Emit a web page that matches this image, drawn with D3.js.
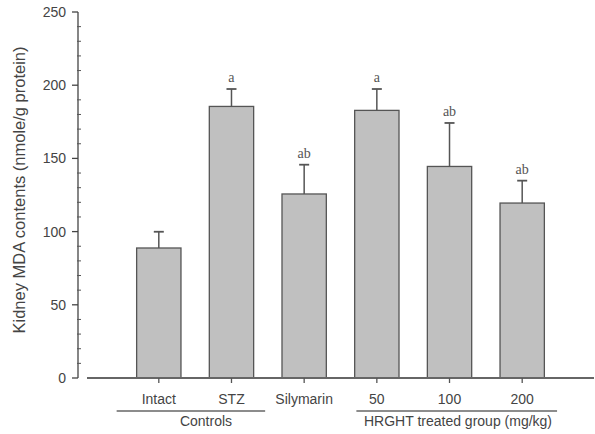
<!DOCTYPE html>
<html>
<head>
    <title>Kidney MDA contents</title>
    <script src="https://d3js.org/d3.v7.min.js"></script>
    <style>
        body {
            margin: 0;
            padding: 0;
            background: #fff;
        }
        svg {
            display: block;
            font-family: "Liberation Sans", Arial, sans-serif;
        }
    </style>
</head>
<body>
    <div id="chart"></div>

    <script>
        const width = 595;
        const height = 434;

        // values
        const groups = ['Intact', 'STZ', 'Silymarin', '50', '100', '200'];
        const means = [88.8, 185.5, 125.7, 182.8, 144.5, 119.5];
        const errors = [11.1, 11.9, 20.0, 14.6, 29.7, 15.3];
        const letters = ['', 'a', 'ab', 'a', 'ab', 'ab'];
        const yTicks = [0, 50, 100, 150, 200, 250];
        const brackets = [
            { label: 'Controls', from: 'Intact', to: 'STZ' },
            { label: 'HRGHT treated group (mg/kg)', from: '50', to: '200' }
        ];

        const data = groups.map((g, i) => ({
            group: g, mean: means[i], err: errors[i], letter: letters[i]
        }));

        const svg = d3.select('#chart')
            .append('svg')
            .attr('width', width)
            .attr('height', height);

        const x = d3.scaleBand()
            .domain(groups)
            .range([87, 594])
            .paddingInner(0.39)
            .paddingOuter(0.683);

        const y = d3.scaleLinear()
            .domain([0, 250])
            .range([378, 12]);

        const axisX = 78;

        // y axis
        svg.append('line')
            .attr('x1', axisX).attr('x2', axisX)
            .attr('y1', y(250)).attr('y2', y(0))
            .attr('stroke', '#444').attr('stroke-width', 1.3);

        svg.selectAll('.minor')
            .data(d3.range(0, 251, 10).filter(v => v % 50 !== 0))
            .join('line')
            .attr('x1', axisX - 1).attr('x2', axisX + 3)
            .attr('y1', d => y(d)).attr('y2', d => y(d))
            .attr('stroke', '#555').attr('stroke-width', 1);

        svg.selectAll('.major')
            .data(yTicks)
            .join('line')
            .attr('x1', axisX - 6).attr('x2', axisX)
            .attr('y1', d => y(d)).attr('y2', d => y(d))
            .attr('stroke', '#444').attr('stroke-width', 1.3);

        svg.selectAll('.ylab')
            .data(yTicks)
            .join('text')
            .attr('x', axisX - 12)
            .attr('y', d => y(d) + 5)
            .attr('text-anchor', 'end')
            .attr('font-size', 14)
            .attr('fill', '#444')
            .text(d => d);

        svg.append('text')
            .attr('transform', `translate(25,${(45 + 335) / 2}) rotate(-90)`)
            .attr('text-anchor', 'middle')
            .attr('font-size', 16.5)
            .attr('fill', '#444')
            .text('Kidney MDA contents (nmole/g protein)');

        // bars
        svg.selectAll('.bar')
            .data(data)
            .join('rect')
            .attr('x', d => x(d.group))
            .attr('y', d => y(d.mean))
            .attr('width', x.bandwidth())
            .attr('height', d => y(0) - y(d.mean))
            .attr('fill', '#c0c0c0')
            .attr('stroke', '#555')
            .attr('stroke-width', 1.3);

        // error bars
        const cx = d => x(d.group) + x.bandwidth() / 2;
        svg.selectAll('.err')
            .data(data)
            .join('line')
            .attr('x1', cx).attr('x2', cx)
            .attr('y1', d => y(d.mean)).attr('y2', d => y(d.mean + d.err))
            .attr('stroke', '#555').attr('stroke-width', 1.5);

        svg.selectAll('.cap')
            .data(data)
            .join('line')
            .attr('x1', d => cx(d) - 5).attr('x2', d => cx(d) + 5)
            .attr('y1', d => y(d.mean + d.err)).attr('y2', d => y(d.mean + d.err))
            .attr('stroke', '#555').attr('stroke-width', 1.8);

        svg.selectAll('.letter')
            .data(data.filter(d => d.letter))
            .join('text')
            .attr('x', cx)
            .attr('y', d => y(d.mean + d.err) - 7)
            .attr('text-anchor', 'middle')
            .attr('font-family', '"Liberation Serif", "Times New Roman", serif')
            .attr('font-size', 14)
            .attr('fill', '#555')
            .text(d => d.letter);

        // x axis
        svg.append('line')
            .attr('x1', 87).attr('x2', 594)
            .attr('y1', y(0)).attr('y2', y(0))
            .attr('stroke', '#666').attr('stroke-width', 1.8);

        svg.selectAll('.xtick')
            .data(groups)
            .join('line')
            .attr('x1', g => x(g) + x.bandwidth() / 2)
            .attr('x2', g => x(g) + x.bandwidth() / 2)
            .attr('y1', y(0)).attr('y2', y(0) + 5)
            .attr('stroke', '#555').attr('stroke-width', 1.3);

        svg.selectAll('.xlab')
            .data(groups)
            .join('text')
            .attr('x', g => x(g) + x.bandwidth() / 2)
            .attr('y', 404)
            .attr('text-anchor', 'middle')
            .attr('font-size', 14)
            .attr('fill', '#444')
            .text(g => g);

        // group brackets under the axis
        const bracketLines = [[-20, 11.5], [1.7, 12.7]];
        const bracketText = [206, 458];
        brackets.forEach((b, i) => {
            const x1 = x(b.from) + bracketLines[i][0];
            const x2 = x(b.to) + x.bandwidth() + bracketLines[i][1];
            svg.append('line')
                .attr('x1', x1).attr('x2', x2)
                .attr('y1', 411).attr('y2', 411)
                .attr('stroke', '#666').attr('stroke-width', 1.3);
            svg.append('text')
                .attr('x', bracketText[i])
                .attr('y', 426)
                .attr('text-anchor', 'middle')
                .attr('font-size', 14)
                .attr('fill', '#444')
                .text(b.label);
        });
    </script>
</body>
</html>
